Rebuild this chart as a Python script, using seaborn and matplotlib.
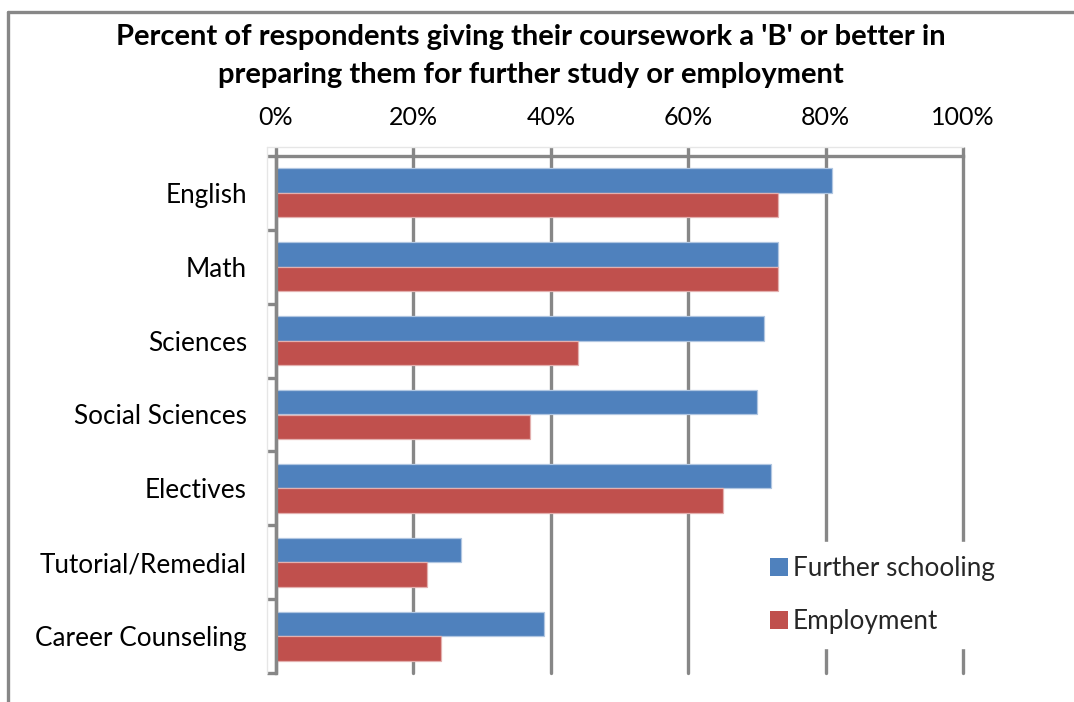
import matplotlib
matplotlib.use("Agg")
import matplotlib.pyplot as plt
import matplotlib.colors as mcolors
from matplotlib.lines import Line2D
from matplotlib.patches import Patch
from matplotlib.ticker import FixedLocator, FuncFormatter
import numpy as np
import pandas as pd
import seaborn as sns

# Survey results: share of respondents rating coursework 'B' or better
categories = ["English", "Math", "Sciences", "Social Sciences", "Electives",
              "Tutorial/Remedial", "Career Counseling"]
further_schooling = [81, 73, 71, 70, 72, 27, 39]
employment = [73, 73, 44, 37, 65, 22, 24]
series_names = ["Further schooling", "Employment"]
x_ticks = [0, 20, 40, 60, 80, 100]

title_text = ("Percent of respondents giving their coursework a 'B' or better in\n"
              "preparing them for further study or employment")

BLUE = "#4F81BD"
RED = "#C0504D"
GRID = "#878787"
W, H = 1074, 702

df = pd.DataFrame({
    "Category": categories * 2,
    "Series": [series_names[0]] * len(categories) + [series_names[1]] * len(categories),
    "Percent": further_schooling + employment,
})

sns.set_theme(style="white")
plt.rcParams["font.family"] = ["Lato", "DejaVu Sans"]

fig = plt.figure(figsize=(W / 100, H / 100), dpi=100)
fig.patch.set_facecolor("white")

ax = fig.add_axes([276 / W, 1 - 673 / H, (963 - 276) / W, (673 - 156) / H])

sns.barplot(data=df, y="Category", x="Percent", hue="Series",
            order=categories, hue_order=series_names,
            palette=[BLUE, RED], width=0.665, gap=0, orient="h",
            saturation=1, errorbar=None, legend=False, ax=ax)

# thin lighter outline around each bar
for cont, col in zip(ax.containers, [BLUE, RED]):
    rgb = np.array(mcolors.to_rgb(col))
    edge = tuple(rgb + (1 - rgb) * 0.55)
    for bar in cont:
        bar.set_edgecolor(edge)
        bar.set_linewidth(0.9)
        bar.set_zorder(3)

ax.set_xlim(0, 100)
ax.set_ylim(len(categories) - 0.5, -0.5)
ax.set_xlabel("")
ax.set_ylabel("")

# value axis on top with vertical gridlines
ax.xaxis.tick_top()
ax.xaxis.set_major_locator(FixedLocator(x_ticks))
ax.xaxis.set_major_formatter(FuncFormatter(lambda v, _: f"{v:.0f}%"))
ax.xaxis.grid(True, color=GRID, linewidth=2.4, zorder=0)
ax.yaxis.grid(False)
ax.set_axisbelow(True)
ax.tick_params(axis="x", which="major", direction="out", length=6.5, width=2.4,
               color=GRID, pad=13, labelsize=18, labelcolor="black",
               top=True, bottom=False)
for gl in ax.xaxis.get_gridlines():
    gl.set_clip_on(False)

# category axis: labels centred on groups, tick marks between groups
ax.yaxis.set_minor_locator(FixedLocator(np.arange(-0.5, len(categories), 1.0)))
ax.tick_params(axis="y", which="major", length=0, pad=21, labelsize=18.8,
               labelcolor="black", left=True)
ax.tick_params(axis="y", which="minor", direction="out", length=6.5, width=2.4,
               color=GRID, left=True)

for side in ["right", "bottom"]:
    ax.spines[side].set_visible(False)
for side in ["left", "top"]:
    ax.spines[side].set_color(GRID)
    ax.spines[side].set_linewidth(2.4)
    ax.spines[side].set_zorder(4)

# legend
handles = [Patch(facecolor=BLUE, edgecolor="none"), Patch(facecolor=RED, edgecolor="none")]
leg = fig.legend(handles, series_names, loc="center left",
                 bbox_to_anchor=(756 / W, 1 - 595 / H), bbox_transform=fig.transFigure,
                 fontsize=18.8, frameon=True, facecolor="white", edgecolor="white",
                 framealpha=1, fancybox=False, handlelength=0.66, handleheight=0.66,
                 handletextpad=0.2, labelspacing=1.08, borderpad=0.55, borderaxespad=0)
leg.set_zorder(5)

# title
fig.text(531 / W, 1 - 56 / H, title_text, ha="center", va="center",
         fontsize=21, fontweight="bold", color="black", linespacing=1.55)

# light plot-area frame (top and left) and chart border
fig.add_artist(Line2D([267 / W, 963 / W], [1 - 147 / H, 1 - 147 / H],
                      color="#e6e6e6", linewidth=1.0))
fig.add_artist(Line2D([267 / W, 267 / W], [1 - 147 / H, 1 - 673 / H],
                      color="#e6e6e6", linewidth=1.0))
fig.add_artist(Line2D([8 / W, 1.0], [1 - 12 / H, 1 - 12 / H],
                      color=GRID, linewidth=2.4))
fig.add_artist(Line2D([8 / W, 8 / W], [1 - 12 / H, 0.0],
                      color=GRID, linewidth=2.4))

fig.savefig("out.png", dpi=100, facecolor="white")
